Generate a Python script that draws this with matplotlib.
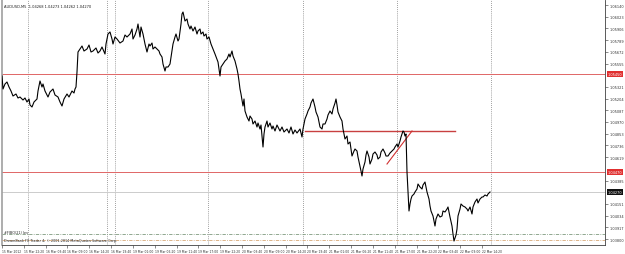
import matplotlib
matplotlib.use("Agg")
import matplotlib.pyplot as plt
import matplotlib.transforms as mtransforms
import numpy as np

# ---- data (bar index, price) ----
bar = [2,3,5,7,9,11,13,16,18,20,23,25,27,29,30,32,34,37,38,40,42,43,45,48,50,53,55,58,60,62,64,67,69,72,74,75,76,77,78,80,82,84,87,89,91,93,96,98,100,102,105,106,107,108,110,112,113,115,117,120,123,125,127,130,132,133,135,137,138,140,141,143,145,147,149,150,152,153,155,157,159,160,162,163,165,166,168,170,172,173,175,176,178,179,181,182,183,185,187,188,190,191,193,195,197,198,200,201,203,204,206,207,209,211,213,215,218,219,220,221,223,225,227,229,230,232,233,235,237,238,239,240,241,243,244,245,247,249,250,252,253,255,257,258,260,261,263,264,265,267,268,270,272,273,275,277,280,282,284,287,289,291,293,295,297,300,302,303,305,307,308,310,311,313,315,316,318,320,322,323,325,327,328,330,332,333,335,336,337,338,340,342,343,345,347,348,350,351,352,354,355,357,358,360,361,362,363,365,366,367,369,370,372,373,375,377,378,380,381,383,385,386,388,390,392,394,395,397,398,400,401,402,403,404,405,406,407,408,409,410,411,412,414,415,417,418,420,422,423,425,426,427,429,430,431,433,434,435,436,438,440,442,443,445,447,448,450,452,453,454,456,457,458,460,461,463,465,467,468,470,472,473,475,477,478,480,482,483,485,487,488,490]
price = [1.0543,1.0530,1.0535,1.0537,1.0532,1.0528,1.0523,1.0525,1.0521,1.0522,1.0519,1.0521,1.0517,1.0520,1.0514,1.0512,1.0517,1.0520,1.0528,1.0538,1.0532,1.0535,1.0528,1.0522,1.0527,1.0530,1.0524,1.0522,1.0517,1.0513,1.0520,1.0525,1.0522,1.0528,1.0526,1.0530,1.0532,1.0547,1.0567,1.0570,1.0573,1.0568,1.0570,1.0574,1.0567,1.0568,1.0571,1.0566,1.0568,1.0572,1.0565,1.0575,1.0580,1.0585,1.0587,1.0580,1.0575,1.0582,1.0580,1.0576,1.0578,1.0584,1.0582,1.0585,1.0590,1.0580,1.0584,1.0590,1.0595,1.0582,1.0592,1.0585,1.0575,1.0567,1.0575,1.0573,1.0576,1.0570,1.0572,1.0570,1.0568,1.0565,1.0562,1.0555,1.0548,1.0552,1.0552,1.0555,1.0568,1.0575,1.0582,1.0585,1.0578,1.0580,1.0595,1.0605,1.0607,1.0598,1.0600,1.0595,1.0590,1.0593,1.0588,1.0592,1.0585,1.0588,1.0590,1.0585,1.0587,1.0583,1.0585,1.0580,1.0582,1.0575,1.0570,1.0565,1.0557,1.0550,1.0543,1.0552,1.0555,1.0558,1.0560,1.0565,1.0562,1.0568,1.0563,1.0558,1.0550,1.0545,1.0538,1.0530,1.0525,1.0513,1.0520,1.0508,1.0502,1.0498,1.0503,1.0500,1.0495,1.0498,1.0492,1.0496,1.0490,1.0494,1.0472,1.0485,1.0492,1.0498,1.0492,1.0496,1.0490,1.0493,1.0488,1.0494,1.0488,1.0492,1.0487,1.0490,1.0486,1.0492,1.0485,1.0489,1.0486,1.0490,1.0482,1.0490,1.0500,1.0505,1.0508,1.0512,1.0516,1.0520,1.0512,1.0507,1.0502,1.0492,1.0490,1.0495,1.0495,1.0500,1.0504,1.0508,1.0505,1.0510,1.0516,1.0520,1.0514,1.0507,1.0502,1.0498,1.0490,1.0480,1.0483,1.0475,1.0477,1.0470,1.0463,1.0468,1.0470,1.0468,1.0462,1.0453,1.0448,1.0443,1.0450,1.0457,1.0464,1.0468,1.0462,1.0455,1.0460,1.0465,1.0467,1.0464,1.0460,1.0462,1.0467,1.0470,1.0466,1.0463,1.0463,1.0466,1.0468,1.0470,1.0472,1.0475,1.0472,1.0478,1.0482,1.0485,1.0488,1.0487,1.0483,1.0485,1.0447,1.0427,1.0408,1.0415,1.0420,1.0423,1.0425,1.0427,1.0430,1.0435,1.0432,1.0430,1.0434,1.0437,1.0432,1.0427,1.0420,1.0413,1.0408,1.0403,1.0398,1.0393,1.0400,1.0405,1.0402,1.0403,1.0408,1.0407,1.0410,1.0412,1.0402,1.0393,1.0385,1.0378,1.0384,1.0390,1.0403,1.0410,1.0415,1.0413,1.0412,1.0410,1.0408,1.0412,1.0405,1.0412,1.0417,1.0420,1.0416,1.0420,1.0422,1.0422,1.0424,1.0423,1.0425,1.0427]

# horizontal levels
red_levels = [1.0545, 1.0447]
bid_level = 1.0427
fibo_levels = [1.0385, 1.0379]
short_level = 1.0488
short_level_bars = [305, 455]
trend_bars = [387, 412]
trend_prices = [1.0455, 1.0488]
separators = [28, 107, 115, 208, 303, 397, 491]

ytick_vals = [1.06140, 1.06023, 1.05906, 1.05789, 1.05672, 1.05555, 1.05321,
              1.05204, 1.05087, 1.04970, 1.04853, 1.04736, 1.04619, 1.04385,
              1.04151, 1.04034, 1.03917, 1.03800]
date_labels = ["15 Mar 2012", "15 Mar 22:20", "16 Mar 03:40", "16 Mar 09:00",
               "16 Mar 14:20", "16 Mar 19:40", "19 Mar 01:00", "19 Mar 06:20",
               "19 Mar 11:40", "19 Mar 17:00", "19 Mar 22:20", "20 Mar 03:40",
               "20 Mar 09:00", "20 Mar 14:20", "20 Mar 19:40", "21 Mar 01:00",
               "21 Mar 06:20", "21 Mar 11:40", "21 Mar 17:00", "21 Mar 22:20",
               "22 Mar 03:40", "22 Mar 09:00", "22 Mar 14:20"]

W, H = 625, 255
fig = plt.figure(figsize=(W / 100, H / 100), dpi=100)
ax = fig.add_axes([2 / W, (H - 246) / H, 603 / W, 245 / H])
ax.set_xlim(2, 605)
ax.set_ylim(1.0374, 1.0619)

for s in separators:
    ax.axvline(s, color="#808080", lw=0.6, ls=(0, (1, 1.5)), zorder=1)

for lv in red_levels:
    ax.axhline(lv, color="#e06666", lw=0.7, zorder=2, snap=True)
ax.axhline(bid_level, color="#cccccc", lw=0.7, zorder=2, snap=True)
ax.axhline(fibo_levels[0], color="#7f9a7f", lw=0.6, ls=(0, (4, 1.5, 1, 1.5)), zorder=2)
ax.axhline(fibo_levels[1], color="#d8a878", lw=0.6, ls=(0, (4, 1.5, 1, 1.5)), zorder=2)
ax.plot(short_level_bars, [short_level, short_level], color="#c84040", lw=1.0, zorder=2)
ax.plot(trend_bars, trend_prices, color="#d03030", lw=0.8, zorder=2)

ax.plot(bar, price, color="black", lw=0.8, zorder=3)

# axes styling
ax.spines["top"].set_visible(False)
ax.spines["left"].set_color("#a0a0a0")
ax.spines["left"].set_linewidth(1.2)
ax.spines["right"].set_color("#404040")
ax.spines["right"].set_linewidth(0.6)
ax.spines["bottom"].set_color("#404040")
ax.spines["bottom"].set_linewidth(0.6)

ax.yaxis.tick_right()
ax.set_yticks(ytick_vals)
ax.set_yticklabels([f"{v:.5f}" for v in ytick_vals])
ax.tick_params(axis="y", labelsize=2.5, length=2, width=0.4, pad=1.2, colors="#303030")

ax.set_xticks(np.linspace(2, 482, len(date_labels)))
ax.set_xticklabels(date_labels, ha="left")
ax.tick_params(axis="x", labelsize=2.2, length=2, width=0.4, pad=1, colors="#303030")

trans = mtransforms.blended_transform_factory(ax.transAxes, ax.transData)
for lv in red_levels:
    ax.text(1.004, lv, f"{lv:.5f}", transform=trans, fontsize=2.5, color="white",
            va="center", ha="left",
            bbox=dict(boxstyle="square,pad=0.15", fc="#e03030", ec="none"))
ax.text(1.004, bid_level, f"{bid_level:.5f}", transform=trans, fontsize=2.5, color="white",
        va="center", ha="left",
        bbox=dict(boxstyle="square,pad=0.15", fc="#101010", ec="none"))

ax.text(0.004, 0.985, "AUDUSD,M5  1.04268 1.04273 1.04262 1.04270", transform=ax.transAxes,
        fontsize=2.6, va="top", ha="left", color="#202020")
ax.text(0.004, 0.055, "#FIBO(21) lev", transform=ax.transAxes,
        fontsize=2.4, va="center", ha="left", color="#202020")
ax.text(0.004, 0.012, "DreamBank FX Trader 4, \u00a9 2001-2014 MetaQuotes Software Corp.",
        transform=ax.transAxes, fontsize=2.4, va="bottom", ha="left", color="#202020")

fig.savefig("out.png", dpi=100, facecolor="white")
